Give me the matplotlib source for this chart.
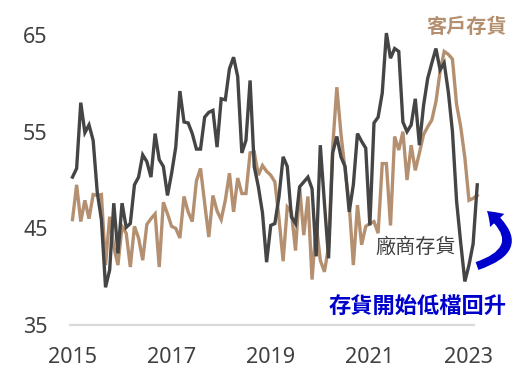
import matplotlib
matplotlib.use("Agg")
import matplotlib.pyplot as plt
import numpy as np
import pandas as pd
from matplotlib.patches import FancyArrowPatch

plt.rcParams['font.family'] = ['Noto Sans', 'Noto Sans CJK TC', 'DejaVu Sans']

# Monthly series, Jan 2015 onward
months = pd.date_range('2015-01-01', periods=99, freq='MS')

maker_inventory = [  # 廠商存貨
    50.3, 51.2, 58.0, 54.9, 55.7, 54.1, 48.7, 45.9, 38.9, 40.7,
    47.6, 42.4, 47.6, 45.1, 45.5, 49.5, 50.3, 52.6, 51.9, 50.3,
    54.8, 52.1, 51.4, 48.4, 50.7, 53.4, 59.2, 56.0, 55.9, 54.8,
    53.2, 53.2, 56.5, 57.0, 57.2, 53.4, 58.4, 58.3, 61.5, 62.7,
    60.7, 52.8, 54.1, 60.3, 51.4, 49.3, 46.6, 41.5, 45.3, 45.5,
    48.3, 52.4, 51.4, 46.2, 45.5, 49.3, 49.8, 50.3, 49.1, 42.1,
    53.6, 47.6, 41.9, 52.8, 54.5, 52.4, 51.4, 46.7, 49.5, 54.8,
    54.0, 53.3, 45.3, 55.9, 56.5, 59.0, 65.2, 62.6, 63.6, 63.3,
    56.0, 55.0, 55.7, 58.4, 53.6, 57.7, 60.5, 62.1, 63.6, 61.4,
    62.1, 59.1, 55.0, 47.8, 43.5, 39.5, 41.2, 43.4, 49.5,
]

customer_inventory = [  # 客戶存貨
    45.9, 49.5, 45.7, 47.9, 46.0, 48.5, 48.4, 48.5, 41.2, 46.2,
    43.1, 41.2, 45.2, 44.5, 41.0, 45.2, 44.0, 41.7, 45.4, 46.0,
    46.5, 41.0, 47.7, 46.5, 45.2, 45.0, 44.0, 48.3, 46.7, 45.7,
    49.9, 51.2, 47.6, 44.1, 48.4, 46.8, 45.9, 47.9, 50.7, 46.7,
    50.2, 48.6, 48.6, 52.8, 52.9, 50.5, 51.5, 50.9, 50.5, 49.8,
    46.0, 41.6, 47.2, 46.7, 42.7, 49.2, 44.3, 48.3, 39.7, 45.4,
    41.7, 40.5, 43.1, 53.4, 59.6, 54.8, 51.0, 47.5, 41.2, 47.4,
    43.3, 45.2, 45.5, 45.7, 44.5, 51.7, 51.7, 45.3, 54.5, 53.1,
    55.0, 50.0, 53.6, 51.0, 52.8, 54.7, 55.5, 56.2, 58.1, 61.2,
    63.3, 63.0, 62.5, 57.8, 55.5, 52.3, 47.9, 48.1, 48.4,
]

y_ticks = [35, 45, 55, 65]
x_tick_years = [2015, 2017, 2019, 2021, 2023]

label_maker = '廠商存貨'
label_customer = '客戶存貨'
note_text = '存貨開始低檔回升'

W, H = 531, 381
fig = plt.figure(figsize=(W / 100, H / 100), dpi=100)

# axes pixel box
ax_left, ax_right, ax_top, ax_bottom = 70, 480, 35, 325
ax = fig.add_axes([ax_left / W, 1 - ax_bottom / H,
                   (ax_right - ax_left) / W, (ax_bottom - ax_top) / H])

x = np.arange(len(months))
step = 4.13
x0 = 72.5
ax.set_xlim((ax_left - x0) / step, (ax_right - x0) / step)
ax.set_ylim(35, 65)

gray = '#454545'
tan = '#B49070'
blue = '#0000CC'

ax.plot(x, customer_inventory, color=tan, lw=2.4, clip_on=False, zorder=2,
        solid_joinstyle='miter')
ax.plot(x, maker_inventory, color=gray, lw=2.4, clip_on=False, zorder=3,
        solid_joinstyle='miter')

ax.axhline(35, xmin=0, xmax=(474 - ax_left) / (ax_right - ax_left),
           color='#D9D9D9', lw=1.6, zorder=1, clip_on=False)

for s in ax.spines.values():
    s.set_visible(False)

ax.set_yticks(y_ticks)
ax.set_yticklabels([str(v) for v in y_ticks])
tick_pos = [i for i, d in enumerate(months) if d.month == 1 and d.year in x_tick_years]
ax.set_xticks(tick_pos)
ax.set_xticklabels([str(months[i].year) for i in tick_pos])
ax.tick_params(axis='both', length=0, labelsize=15.5, labelcolor='#404040')
ax.tick_params(axis='y', pad=16)
ax.tick_params(axis='x', pad=16)

def fx(px):
    return px / W

def fy(py):
    return 1 - py / H

fig.text(fx(467), fy(26), label_customer, color=tan, fontsize=14.5,
         ha='center', va='center', fontweight='bold',
         family=['Noto Sans CJK TC', 'DejaVu Sans'])
fig.text(fx(416), fy(247), label_maker, color='#404040', fontsize=14.5,
         ha='center', va='center',
         family=['Noto Sans CJK TC', 'DejaVu Sans'])
fig.text(fx(418), fy(307), note_text, color=blue, fontsize=16,
         ha='center', va='center', fontweight='bold',
         family=['Noto Sans CJK TC', 'DejaVu Sans'])

arrow = FancyArrowPatch((fx(477), fy(266)), (fx(487), fy(211)),
                        transform=fig.transFigure,
                        connectionstyle='arc3,rad=0.9',
                        arrowstyle='simple,head_width=14,head_length=10,tail_width=6',
                        color=blue, lw=0, shrinkA=0, shrinkB=0)
fig.add_artist(arrow)

fig.savefig('out.png', dpi=100)
